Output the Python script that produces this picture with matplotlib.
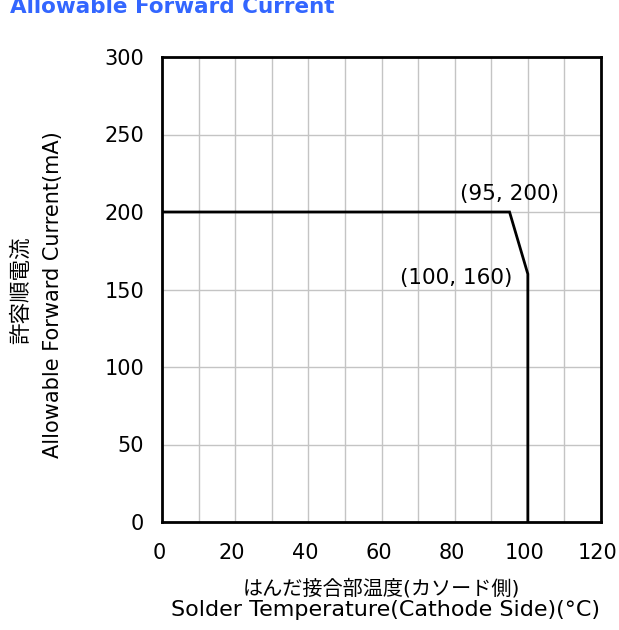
import matplotlib
matplotlib.use("Agg")
import matplotlib.pyplot as plt
import matplotlib.transforms as mtransforms
from matplotlib.ticker import MultipleLocator

plt.rcParams["font.family"] = ["DejaVu Sans", "Noto Sans CJK JP"]

# derating curve
temp_c = [0, 95, 100, 100]
current_ma = [200, 200, 160, 0]

x_ticks = [0, 20, 40, 60, 80, 100, 120]
y_ticks = [0, 50, 100, 150, 200, 250, 300]

ann_points = [(95, 200), (100, 160)]

W, H = 619, 630


def main():
    fig = plt.figure(figsize=(W / 100, H / 100), dpi=100)
    ax = fig.add_axes([162 / W, 1 - 522 / H, (601 - 162) / W, (522 - 57) / H])

    ax.plot(temp_c, current_ma, color="black", lw=2, solid_joinstyle="miter", zorder=3)

    ax.set_xlim(0, 120)
    ax.set_ylim(0, 300)
    ax.set_xticks(x_ticks)
    ax.set_yticks(y_ticks)
    ax.xaxis.set_minor_locator(MultipleLocator(10))
    ax.grid(which="both", color="#c4c4c4", lw=1)
    ax.set_axisbelow(True)
    ax.tick_params(which="both", length=0, labelsize=15)
    ax.tick_params(axis="y", pad=13)
    ax.tick_params(axis="x", pad=15)
    for s in ax.spines.values():
        s.set_linewidth(2)
        s.set_color("black")

    # x tick labels sit a few pixels left of their ticks in the reference
    shift = mtransforms.ScaledTranslation(-3 / 100, 0, fig.dpi_scale_trans)
    for lbl in ax.get_xticklabels():
        lbl.set_transform(lbl.get_transform() + shift)

    ax.text(95.1, 205, f"({ann_points[0][0]}, {ann_points[0][1]})",
            ha="center", va="bottom", fontsize=15.5)
    ax.text(95.9, 157.5, f"({ann_points[1][0]}, {ann_points[1][1]})",
            ha="right", va="center", fontsize=15.5)

    # axis labels, two lines each (Japanese + English)
    fig.text(381 / W, 1 - 589 / H, "はんだ接合部温度(カソード側)",
             fontsize=14.5, ha="center", va="center")
    fig.text(385 / W, 1 - 610 / H, "Solder Temperature(Cathode Side)(°C)",
             fontsize=16, ha="center", va="center")
    fig.text(21 / W, 1 - 290 / H, "許容順電流", rotation=90,
             fontsize=15.5, ha="center", va="center")
    fig.text(53 / W, 1 - 295 / H, "Allowable Forward Current(mA)", rotation=90,
             fontsize=15, ha="center", va="center")

    fig.text(10 / W, 1 - 13 / H, "Allowable Forward Current", color="#3366ff",
             fontsize=15.5, fontweight="bold", ha="left", va="baseline")

    fig.savefig("out.png", dpi=100)
    plt.close(fig)


if __name__ == "__main__":
    main()
